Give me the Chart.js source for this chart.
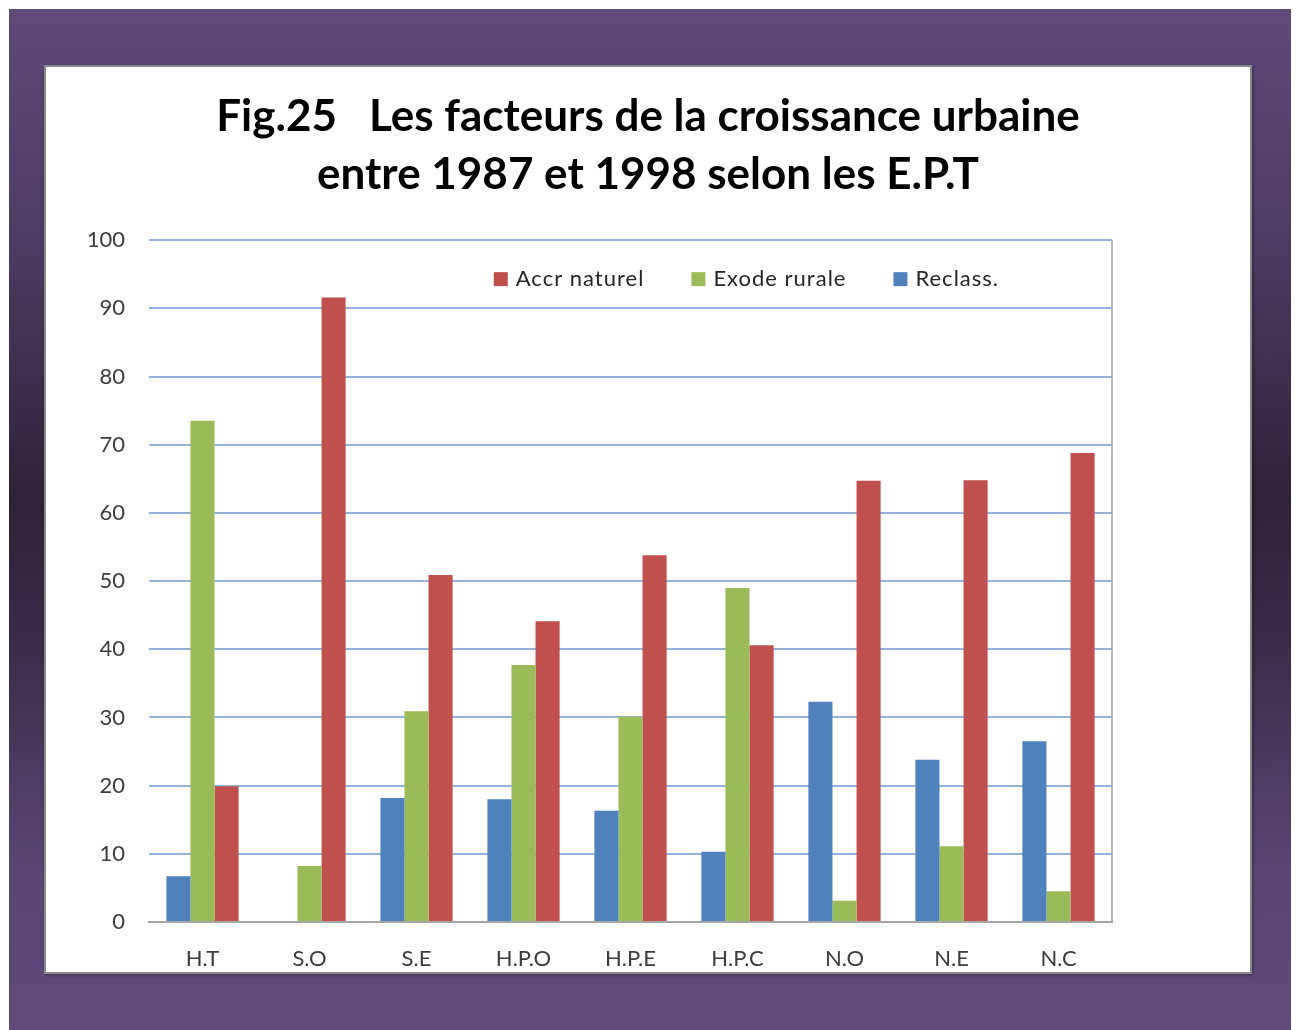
<!DOCTYPE html>
<html>
<head>
<meta charset="utf-8">
<script src="https://cdn.jsdelivr.net/npm/chart.js@4"></script>
<style>
    body { margin: 0; background: #fff; width: 1296px; height: 1030px; overflow: hidden; position: relative; }
    #frame {
        position: absolute; left: 9px; top: 9px; width: 1282px; height: 1021px;
        background: linear-gradient(to bottom, #5f4a7a 0%, #4a3a60 25%, #2e2236 48%, #3a2c48 62%, #5a4776 85%, #5f4a7a 100%);
    }
    #panel {
        position: absolute; left: 44px; top: 65px; width: 1204px; height: 905px;
        background: #fff; border: 2px solid #8a8a8a;
        box-shadow: 1px 1px 3px rgba(0,0,0,0.4);
    }
    canvas { display: block; }
</style>
</head>
<body>
<div id="frame"></div>
<div id="panel"><canvas id="chart" width="1204" height="905"></canvas></div>
<script>
const categories = ["H.T", "S.O", "S.E", "H.P.O", "H.P.E", "H.P.C", "N.O", "N.E", "N.C"];
const reclass = [6.7, 0, 18.2, 18.0, 16.3, 10.3, 32.3, 23.8, 26.5];
const exodeRurale = [73.5, 8.2, 30.9, 37.7, 30.1, 49.0, 3.1, 11.1, 4.5];
const accrNaturel = [19.9, 91.6, 50.9, 44.1, 53.8, 40.6, 64.7, 64.8, 68.8];
const yTicks = [0, 10, 20, 30, 40, 50, 60, 70, 80, 90, 100];
const titleLines = ["Fig.25   Les facteurs de la croissance urbaine", "entre 1987 et 1998 selon les E.P.T"];

const blue = "#4f81bd";
const green = "#9bbb59";
const red = "#c0504d";

// legend drawn inside the plot area, in reverse dataset order
const insideLegend = {
    id: "insideLegend",
    afterDraw(chart) {
        const ctx = chart.ctx;
        const area = chart.chartArea;
        ctx.save();
        // plot border on the right
        ctx.strokeStyle = "#a0a0a0";
        ctx.lineWidth = 1.5;
        ctx.beginPath();
        ctx.moveTo(area.right, area.top);
        ctx.lineTo(area.right, area.bottom);
        ctx.stroke();

        ctx.font = "22px Lato";
        ctx.letterSpacing = "1px";
        ctx.textBaseline = "middle";
        let x = area.left + area.width * 0.358;
        const y = area.top + 39;
        const items = chart.data.datasets.slice().reverse();
        items.forEach(ds => {
            ctx.fillStyle = ds.backgroundColor;
            ctx.fillRect(x, y - 7, 14, 14);
            x += 22;
            ctx.fillStyle = "#262626";
            ctx.fillText(ds.label, x, y);
            x += ctx.measureText(ds.label).width + 47;
        });
        ctx.restore();
    }
};

new Chart(document.getElementById("chart"), {
    type: "bar",
    data: {
        labels: categories,
        datasets: [
            { label: "Reclass.", data: reclass, backgroundColor: blue },
            { label: "Exode rurale", data: exodeRurale, backgroundColor: green },
            { label: "Accr naturel", data: accrNaturel, backgroundColor: red }
        ]
    },
    options: {
        responsive: false,
        animation: false,
        layout: { padding: 0 },
        datasets: { bar: { categoryPercentage: 0.675, barPercentage: 1.0 } },
        plugins: {
            legend: { display: false },
            tooltip: { enabled: false },
            title: {
                display: true,
                text: titleLines,
                color: "#000",
                font: { family: "Lato", size: 44, weight: "bold", lineHeight: 1.32 },
                padding: { top: 21, bottom: 36 }
            }
        },
        scales: {
            x: {
                grid: { display: false, drawTicks: false },
                border: { display: true, color: "#a6a6a6", width: 2 },
                ticks: { color: "#3c3c3c", font: { family: "Lato", size: 22 }, padding: 24 },
                afterFit(scale) { scale.height = 50; }
            },
            y: {
                min: 0,
                max: 100,
                afterBuildTicks(scale) { scale.ticks = yTicks.map(v => ({ value: v })); },
                grid: { color: "#94b3dc", lineWidth: 2, drawTicks: false },
                border: { display: false },
                ticks: { color: "#3c3c3c", font: { family: "Lato", size: 22 }, padding: 24 },
                afterFit(scale) { scale.width = 103; }
            },
            // empty right axis: keeps the white space right of the plot
            yRight: {
                position: "right",
                min: 0,
                max: 100,
                grid: { display: false, drawTicks: false },
                border: { display: false },
                ticks: { display: false },
                afterFit(scale) { scale.width = 138; }
            }
        }
    },
    plugins: [insideLegend]
});
</script>
</body>
</html>
